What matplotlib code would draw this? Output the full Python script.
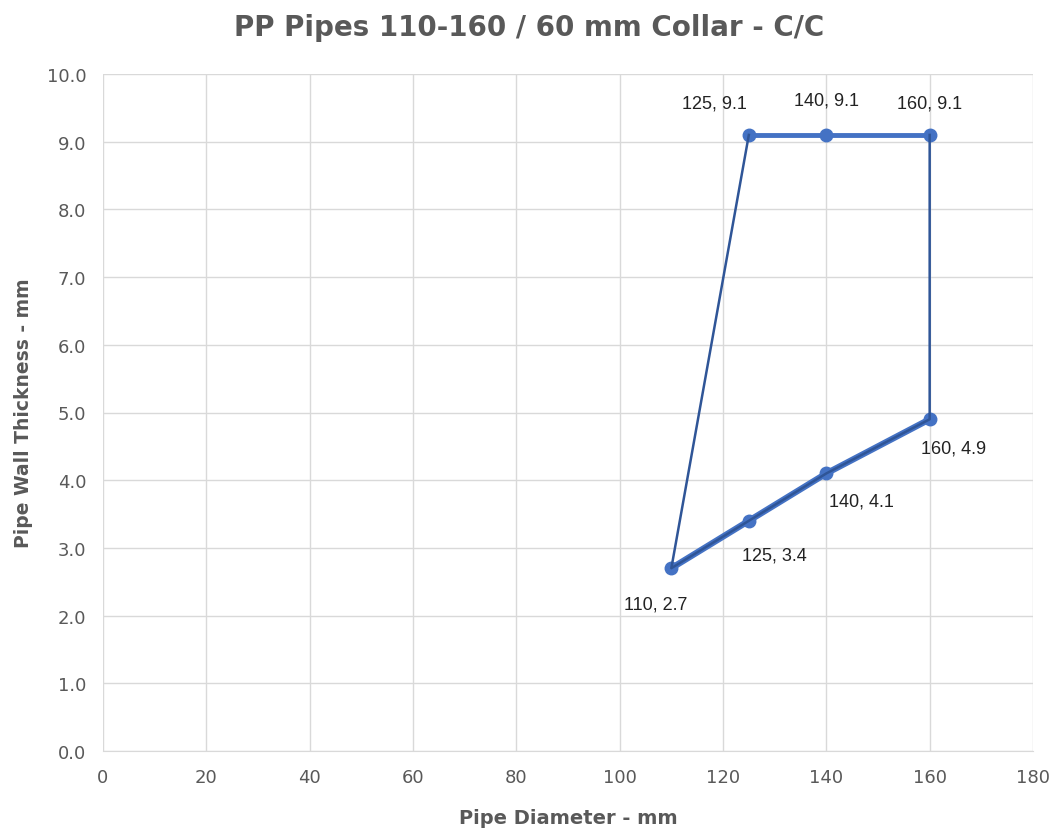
import matplotlib.pyplot as plt
import numpy as np

# outline of the collar region (sides + bottom)
side_dia = [125, 110, 125, 140, 160, 160]
side_wall = [9.1, 2.7, 3.4, 4.1, 4.9, 9.1]

low_dia = [110, 125, 140, 160]
low_wall = [2.7, 3.4, 4.1, 4.9]
top_dia = [125, 140, 160]
top_wall = [9.1, 9.1, 9.1]

x_ticks = list(range(0, 181, 20))
y_ticks = np.arange(0, 10.01, 1.0)

# label offsets in pixels, per point
label_pts = [(110, 2.7), (125, 9.1), (140, 9.1), (160, 9.1), (160, 4.9), (140, 4.1), (125, 3.4)]
label_off = [(-16, -36), (-34, 32), (0, 35), (0, 32), (24, -29), (35, -28), (26, -34)]

grey = '#595959'
blue = '#4472C4'
dark = '#2F5597'

fig = plt.figure(figsize=(10.58, 8.37), dpi=100)
ax = fig.add_axes([103 / 1058, 1 - 752 / 837, (1033 - 103) / 1058, (752 - 75) / 837])

ax.plot(low_dia, low_wall, color=blue, lw=4.5, marker='o', ms=9, zorder=3)
ax.plot(top_dia, top_wall, color=blue, lw=3.5, marker='o', ms=9, zorder=3)
ax.plot(side_dia, side_wall, color=dark, lw=1.8, zorder=4)

for (x, y), (dx, dy) in zip(label_pts, label_off):
    ax.annotate(f"{x}, {y}", (x, y), xytext=(dx, dy), textcoords='offset pixels',
                ha='center', va='center', fontsize=13, color='#222222',
                family='Liberation Sans')

ax.set_xlim(0, 180)
ax.set_ylim(0, 10)
ax.set_xticks(x_ticks)
ax.set_yticks(y_ticks)
ax.set_yticklabels([f"{v:.1f}" for v in y_ticks])
ax.grid(True, color='#D9D9D9', lw=1)
ax.set_axisbelow(True)
for s in ['left', 'right', 'top']:
    ax.spines[s].set_visible(False)
ax.spines['bottom'].set_color('#D9D9D9')
ax.tick_params(length=0, labelsize=13, labelcolor=grey, pad=12)

ax.set_xlabel('Pipe Diameter - mm', fontsize=14, fontweight='bold', color=grey, labelpad=16)
ax.set_ylabel('Pipe Wall Thickness - mm', fontsize=13.5, fontweight='bold', color=grey, labelpad=10)
fig.text(0.5, 1 - 28 / 837, 'PP Pipes 110-160 / 60 mm Collar - C/C', ha='center', va='center',
         fontsize=20, fontweight='bold', color=grey)

fig.savefig('out.png', dpi=100)
